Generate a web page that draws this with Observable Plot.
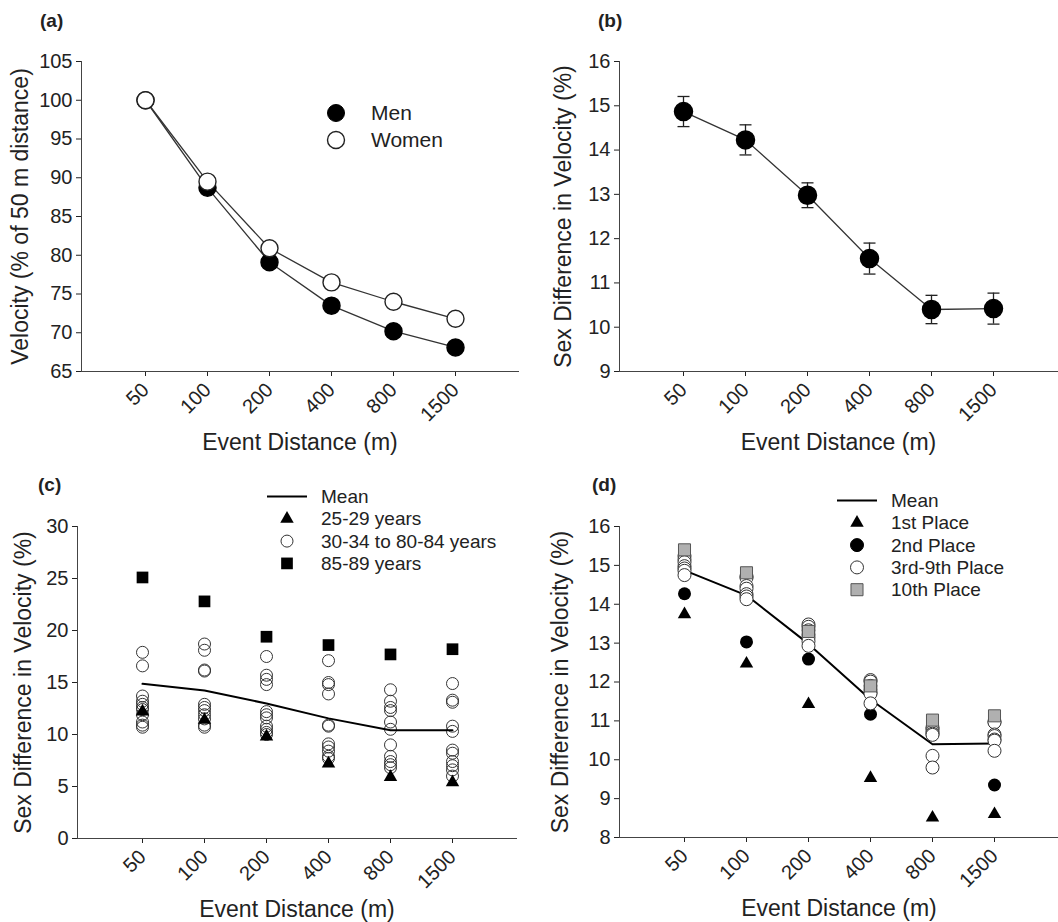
<!DOCTYPE html>
<html><head><meta charset="utf-8">
<script src="https://cdn.jsdelivr.net/npm/d3@7"></script>
<script src="https://cdn.jsdelivr.net/npm/@observablehq/plot@0.6"></script>
<style>
body{margin:0;background:#fff;}
#root{position:relative;width:1058px;height:922px;font-family:"Liberation Sans",Arial,Helvetica,sans-serif;}
.panel{position:absolute;}
.panel svg{overflow:visible;}
g[aria-label="x-axis label"], g[aria-label="y-axis label"]{font-size:23px;}
</style></head><body><div id="root"></div>
<script>
// ---------- data ----------
const distances = ["50", "100", "200", "400", "800", "1500"];
// (a) velocity relative to 50 m
const menVelocity   = [100, 88.7, 79.1, 73.5, 70.2, 68.1];
const womenVelocity = [100, 89.5, 80.9, 76.5, 74.0, 71.8];
// (b) sex difference mean and error
const sexDiffMean = [14.87, 14.23, 12.98, 11.55, 10.40, 10.42];
const sexDiffErr  = [0.34, 0.34, 0.28, 0.35, 0.32, 0.35];
// (c) age groups
const age2529 = [12.2, 11.4, 9.8, 7.2, 5.9, 5.4];
const age8589 = [25.1, 22.8, 19.4, 18.6, 17.7, 18.2];
const ageMid50   = [17.9, 16.6, 13.7, 13.2, 12.9, 12.6, 12.4, 11.9, 11.2, 10.9, 10.7];
const ageMid100  = [18.7, 18.1, 16.2, 16.1, 12.9, 12.6, 12.3, 11.9, 11.5, 10.9, 10.7];
const ageMid200  = [17.5, 15.7, 15.3, 14.8, 12.2, 11.9, 11.6, 10.8, 10.5, 10.2, 10.0];
const ageMid400  = [17.1, 15.0, 14.8, 13.9, 10.9, 10.8, 9.1, 8.8, 8.4, 7.9, 7.7];
const ageMid800  = [14.3, 13.2, 12.6, 12.3, 11.2, 10.5, 9.0, 7.9, 7.4, 7.1, 6.8];
const ageMid1500 = [14.9, 13.3, 13.1, 10.8, 10.3, 8.5, 8.2, 7.4, 7.0, 6.6, 6.0];
// (d) places
const place1  = [13.74, 12.47, 11.43, 9.53, 8.51, 8.60];
const place2  = [14.27, 13.03, 12.59, 11.17, null, 9.35];
const place10 = [15.40, 14.81, 13.30, 11.90, 11.02, 11.13];
const place3to9_50   = [15.24, 15.15, 15.08, 14.98, 14.92, 14.86, 14.75];
const place3to9_100  = [14.72, 14.68, 14.47, 14.40, 14.26, 14.20, 14.13];
const place3to9_200  = [13.48, 13.42, 13.33, 13.22, 13.14, 13.05, 12.93];
const place3to9_400  = [12.05, 12.01, 11.90, 11.81, 11.73, 11.70, 11.45];
const place3to9_800  = [10.83, 10.79, 10.72, 10.67, 10.64, 10.10, 9.80];
const place3to9_1500 = [10.98, 10.96, 10.65, 10.61, 10.52, 10.49, 10.23];

// ---------- tables ----------
const series = (arr) => distances.map((d, i) => ({dist: d, v: arr[i]})).filter(r => r.v != null);
const ageMid = [ageMid50, ageMid100, ageMid200, ageMid400, ageMid800, ageMid1500];
const midRows = ageMid.flatMap((vals, i) => vals.map(v => ({dist: distances[i], v})));
const place39 = [place3to9_50, place3to9_100, place3to9_200, place3to9_400, place3to9_800, place3to9_1500];
const p39Rows = place39.flatMap((vals, i) => vals.map(v => ({dist: distances[i], v})));
const meanRows = distances.map((d, i) => ({dist: d, v: sexDiffMean[i], e: sexDiffErr[i]}));

// ---------- common ----------
const FONT = '"Liberation Sans", Arial, Helvetica, sans-serif';
const AX = "#444";
const W = 529, H = 461;
const root = document.getElementById("root");
function place(el, left, top) {
  const d = document.createElement("div");
  d.className = "panel"; d.style.left = left + "px"; d.style.top = top + "px";
  d.appendChild(el); root.appendChild(d);
}
function xScale() {
  return {type: "point", domain: distances, padding: 1, label: "Event Distance (m)", labelArrow: "none",
          labelAnchor: "center", labelOffset: 78, tickRotate: -45, tickSize: 5, tickPadding: 10};
}
function frameMarks() {
  return [Plot.frame({anchor: "left", stroke: AX}), Plot.frame({anchor: "bottom", stroke: AX})];
}
const style = {fontFamily: FONT, fontSize: "20px", color: "#222", background: "transparent"};
const intFmt = d3.format("d");
// horizontal cap symbol for error bars
const capSymbol = {draw(ctx) { ctx.moveTo(-6, 0); ctx.lineTo(6, 0); }};

// (a)
const plotA = Plot.plot({
  width: W, height: H, marginLeft: 81, marginRight: 11, marginTop: 61, marginBottom: 90, style,
  x: xScale(),
  y: {domain: [65, 105], ticks: d3.range(65, 106, 5), tickSize: 5, tickPadding: 4, labelArrow: "none",
      label: "Velocity (% of 50 m distance)", labelAnchor: "center", labelOffset: 70},
  marks: [
    ...frameMarks(),
    Plot.line(series(menVelocity), {x: "dist", y: "v", stroke: "#333", strokeWidth: 1.3}),
    Plot.line(series(womenVelocity), {x: "dist", y: "v", stroke: "#333", strokeWidth: 1.3}),
    Plot.dot(series(menVelocity), {x: "dist", y: "v", r: 8.5, fill: "black", stroke: "black"}),
    Plot.dot(series(womenVelocity), {x: "dist", y: "v", r: 8.5, fill: "white", stroke: "#222", strokeWidth: 1.4})
  ]
});
place(plotA, 0, 0);

// (b)
const plotB = Plot.plot({
  width: W, height: H, marginLeft: 90, marginRight: 1, marginTop: 61, marginBottom: 90, style,
  x: xScale(),
  y: {domain: [9, 16], ticks: d3.range(9, 17, 1), tickFormat: intFmt, tickSize: 5, tickPadding: 4, labelArrow: "none",
      label: "Sex Difference in Velocity (%)", labelAnchor: "center", labelOffset: 65},
  marks: [
    ...frameMarks(),
    Plot.line(meanRows, {x: "dist", y: "v", stroke: "#333", strokeWidth: 1.3}),
    Plot.ruleX(meanRows, {x: "dist", y1: d => d.v - d.e, y2: d => d.v + d.e, stroke: "#222", strokeWidth: 1.3}),
    Plot.dot(meanRows, {x: "dist", y: d => d.v + d.e, symbol: capSymbol, stroke: "#222", strokeWidth: 1.3}),
    Plot.dot(meanRows, {x: "dist", y: d => d.v - d.e, symbol: capSymbol, stroke: "#222", strokeWidth: 1.3}),
    Plot.dot(meanRows, {x: "dist", y: "v", r: 9, fill: "black", stroke: "black"})
  ]
});
place(plotB, 529, 0);

// (c)
const plotC = Plot.plot({
  width: W, height: H, marginLeft: 77, marginRight: 13, marginTop: 65, marginBottom: 84, style,
  x: xScale(),
  y: {domain: [0, 30], ticks: d3.range(0, 31, 5), tickSize: 5, tickPadding: 4, labelArrow: "none",
      label: "Sex Difference in Velocity (%)", labelAnchor: "center", labelOffset: 63},
  marks: [
    ...frameMarks(),
    Plot.dot(midRows, {x: "dist", y: "v", r: 6, fill: "none", stroke: "#333", strokeWidth: 1}),
    Plot.dot(series(age2529), {x: "dist", y: "v", symbol: "triangle", r: 5, fill: "black"}),
    Plot.dot(series(age8589), {x: "dist", y: "v", symbol: "square", r: 6.6, fill: "black"}),
    Plot.line(meanRows, {x: "dist", y: "v", stroke: "black", strokeWidth: 2})
  ]
});
place(plotC, 0, 461);

// (d)
const plotD = Plot.plot({
  width: W, height: H, marginLeft: 90, marginRight: 0, marginTop: 65, marginBottom: 85, style,
  x: xScale(),
  y: {domain: [8, 16], ticks: d3.range(8, 17, 1), tickFormat: intFmt, tickSize: 5, tickPadding: 4, labelArrow: "none",
      label: "Sex Difference in Velocity (%)", labelAnchor: "center", labelOffset: 68},
  marks: [
    ...frameMarks(),
    Plot.line(meanRows, {x: "dist", y: "v", stroke: "black", strokeWidth: 2}),
    Plot.dot(series(place1), {x: "dist", y: "v", symbol: "triangle", r: 5, fill: "black"}),
    Plot.dot(series(place2), {x: "dist", y: "v", r: 6.5, fill: "black"}),
    Plot.dot(p39Rows, {x: "dist", y: "v", r: 6.5, fill: "white", stroke: "#333", strokeWidth: 1}),
    Plot.dot(series(place10), {x: "dist", y: "v", symbol: "square", r: 6.8, fill: "#b0b0b0", stroke: "#555", strokeWidth: 1})
  ]
});
place(plotD, 529, 461);

// ---------- overlay: panel letters and legends ----------
const ov = d3.select(root).append("svg")
  .attr("width", 1058).attr("height", 922)
  .style("position", "absolute").style("left", 0).style("top", 0)
  .style("pointer-events", "none").style("font-family", FONT).attr("fill", "#222");

const panelLetters = [["(a)", 40, 27], ["(b)", 598, 27], ["(c)", 38, 491], ["(d)", 592, 491]];
ov.selectAll("text.pl").data(panelLetters).join("text").attr("class", "pl")
  .attr("x", d => d[1]).attr("y", d => d[2]).attr("font-weight", "bold").attr("font-size", 19)
  .text(d => d[0]);

const sym = (type, r) => d3.symbol(type, Math.PI * r * r)();
function legend(items, sx, tx, y0, dy, fs) {
  items.forEach((it, i) => {
    const y = y0 + i * dy;
    const g = ov.append("g");
    if (it.kind === "line") {
      g.append("line").attr("x1", sx - 20).attr("x2", sx + 20).attr("y1", y).attr("y2", y)
        .attr("stroke", "black").attr("stroke-width", 2);
    } else if (it.kind === "circle") {
      g.append("circle").attr("cx", sx).attr("cy", y).attr("r", it.r)
        .attr("fill", it.fill).attr("stroke", it.stroke).attr("stroke-width", it.sw || 1);
    } else {
      g.append("path").attr("transform", `translate(${sx},${y})`).attr("d", sym(it.kind, it.r))
        .attr("fill", it.fill).attr("stroke", it.stroke || "none").attr("stroke-width", 1);
    }
    g.append("text").attr("x", tx).attr("y", y).attr("dy", "0.35em").attr("font-size", fs).text(it.label);
  });
}
legend([
  {kind: "circle", r: 8.5, fill: "black", stroke: "black", label: "Men"},
  {kind: "circle", r: 8.5, fill: "white", stroke: "#222", sw: 1.4, label: "Women"}
], 336, 371, 113, 27, 21);
legend([
  {kind: "line", label: "Mean"},
  {kind: d3.symbolTriangle, r: 5, fill: "black", label: "25-29 years"},
  {kind: "circle", r: 6, fill: "none", stroke: "#333", label: "30-34 to 80-84 years"},
  {kind: d3.symbolSquare, r: 6.6, fill: "black", label: "85-89 years"}
], 287, 321, 496.5, 22.3, 19);
legend([
  {kind: "line", label: "Mean"},
  {kind: d3.symbolTriangle, r: 5, fill: "black", label: "1st Place"},
  {kind: "circle", r: 6.5, fill: "black", stroke: "black", label: "2nd Place"},
  {kind: "circle", r: 6.5, fill: "white", stroke: "#333", label: "3rd-9th Place"},
  {kind: d3.symbolSquare, r: 6.8, fill: "#b0b0b0", stroke: "#555", label: "10th Place"}
], 857, 891, 500.5, 22.3, 19);
</script>
</body></html>
